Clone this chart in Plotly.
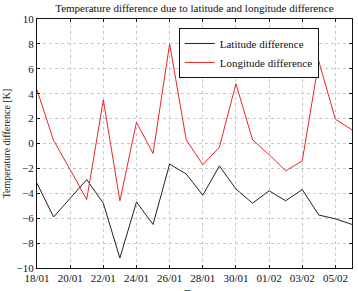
import plotly.graph_objects as go

dates = ["2013-01-18", "2013-01-19", "2013-01-20", "2013-01-21", "2013-01-22",
         "2013-01-23", "2013-01-24", "2013-01-25", "2013-01-26", "2013-01-27",
         "2013-01-28", "2013-01-29", "2013-01-30", "2013-01-31", "2013-02-01",
         "2013-02-02", "2013-02-03", "2013-02-04", "2013-02-05", "2013-02-06"]
latitude_diff = [-3.2, -5.9, -4.4, -2.9, -4.8, -9.2, -4.7, -6.5, -1.65, -2.45,
                 -4.15, -1.8, -3.65, -4.8, -3.8, -4.6, -3.7, -5.75, -6.05, -6.5]
longitude_diff = [4.3, 0.25, -2.1, -4.5, 3.5, -4.6, 1.7, -0.8, 8.0, 0.3,
                  -1.7, -0.3, 4.8, 0.3, -0.9, -2.2, -1.4, 6.6, 1.95, 1.1]
ytick_vals = [-10, -8, -6, -4, -2, 0, 2, 4, 6, 8, 10]

font = "Liberation Serif"

fig = go.Figure()
fig.add_trace(go.Scatter(x=dates, y=latitude_diff, mode="lines",
                         name="Latitude difference",
                         line=dict(color="#222222", width=1)))
fig.add_trace(go.Scatter(x=dates, y=longitude_diff, mode="lines",
                         name="Longitude difference",
                         line=dict(color="#e8262a", width=1)))

fig.update_layout(
    width=358, height=291,
    margin=dict(l=37, r=6, t=19, b=23),
    paper_bgcolor="white", plot_bgcolor="white",
    font=dict(family=font, size=11, color="#111111"),
    title=dict(text="Temperature difference due to latitude and longitude difference",
               x=0.543, xanchor="center", y=0.972, yanchor="middle",
               font=dict(size=11)),
    showlegend=True,
    legend=dict(x=0.45, y=0.964, xanchor="left", yanchor="top",
                bgcolor="white", bordercolor="#111111", borderwidth=1,
                font=dict(size=11), tracegroupgap=0, itemwidth=30),
    annotations=[dict(text="Date", xref="paper", yref="paper",
                      x=0.5, y=-0.068, xanchor="center", yanchor="top",
                      showarrow=False, font=dict(size=11))],
)
fig.update_xaxes(
    type="date", range=["2013-01-18", "2013-02-06"],
    tick0="2013-01-18", dtick=2 * 86400000, tickformat="%d/%m",
    showgrid=True, gridcolor="#c8c8c8", griddash="dot", gridwidth=1,
    showline=True, linecolor="#111111", linewidth=1, mirror="ticks",
    ticks="inside", ticklen=3, tickcolor="#111111",
    zeroline=False, automargin=False,
    tickfont=dict(size=11),
)
fig.update_yaxes(
    range=[-10, 10], tickvals=ytick_vals,
    showgrid=True, gridcolor="#c8c8c8", griddash="dot", gridwidth=1,
    showline=True, linecolor="#111111", linewidth=1, mirror="ticks",
    ticks="inside", ticklen=3, tickcolor="#111111",
    zeroline=False, automargin=False,
    title=dict(text="Temperature difference [K]", standoff=4, font=dict(size=10)),
    tickfont=dict(size=11),
)

fig.write_html("out.html")
